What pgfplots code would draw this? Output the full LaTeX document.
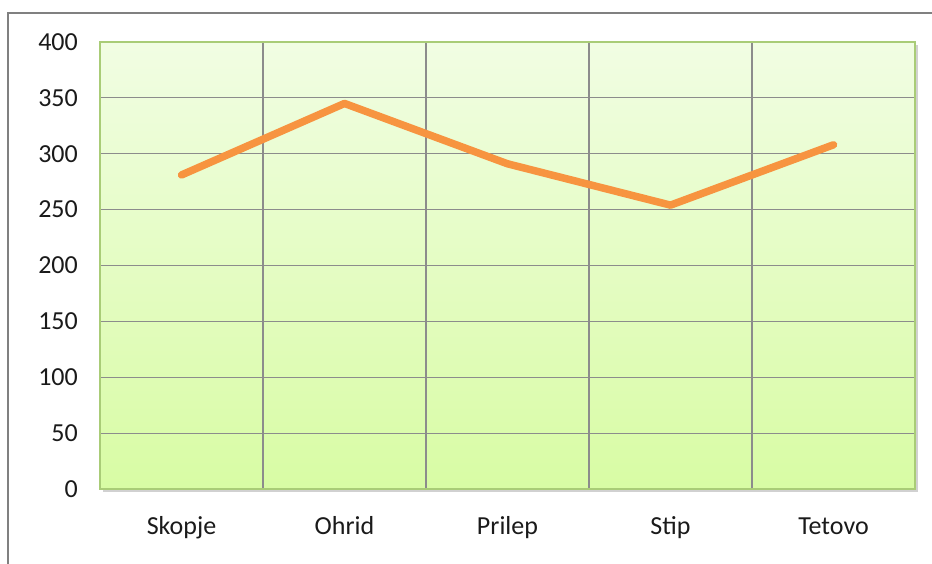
\documentclass[border=0pt]{standalone}
\usepackage{pgfplots}
\pgfplotsset{compat=1.18}
\usepackage{fontspec}
\setmainfont{Carlito}
\definecolor{lineorange}{HTML}{F79440}
\definecolor{bgtop}{HTML}{F1FDE3}
\definecolor{bgbot}{HTML}{D8FCA4}
\definecolor{plotborder}{HTML}{A9CC77}
\definecolor{gridgray}{HTML}{8C8C8C}
\definecolor{framegray}{HTML}{808080}
\definecolor{txt}{HTML}{1A1A1A}
\begin{document}
\begin{tikzpicture}[x=1bp,y=1bp]
\path[use as bounding box] (0,0) rectangle (932,564);
\draw[framegray, line width=2bp] (8,0) -- (8,551) -- (932,551);
% shadow
\fill[black!18] (103,72) rectangle (918,519);
\begin{axis}[
  at={(100bp,75bp)}, anchor=south west,
  scale only axis, width=815bp, height=447bp,
  xmin=0.5, xmax=5.5, ymin=0, ymax=400,
  xtick={1,2,3,4,5},
  xticklabels={Skopje,Ohrid,Prilep,Stip,Tetovo},
  ytick={0,50,...,400},
  minor xtick={1.5,2.5,3.5,4.5},
  xmajorgrids=false, ymajorgrids=true, xminorgrids=true,
  grid style={gridgray, line width=1.2bp},
  minor grid style={gridgray, line width=1.2bp},
  major tick length=0pt, minor tick length=0pt,
  axis line style={plotborder, line width=1.5bp},
  axis background/.style={top color=bgtop, bottom color=bgbot},
  tick label style={font=\fontsize{26bp}{28bp}\selectfont, text=txt},
  /pgf/number format/assume math mode=true,
  yticklabel style={anchor=east, xshift=-22bp, inner sep=0pt},
  xticklabel style={anchor=base, yshift=-46bp, inner sep=0pt},
  clip=false,
]
\addplot[lineorange, line width=7.5bp, line cap=round, line join=round] coordinates {
  (1,281) (2,345) (3,291) (4,254) (5,308)
};
\end{axis}
\end{tikzpicture}
\end{document}
